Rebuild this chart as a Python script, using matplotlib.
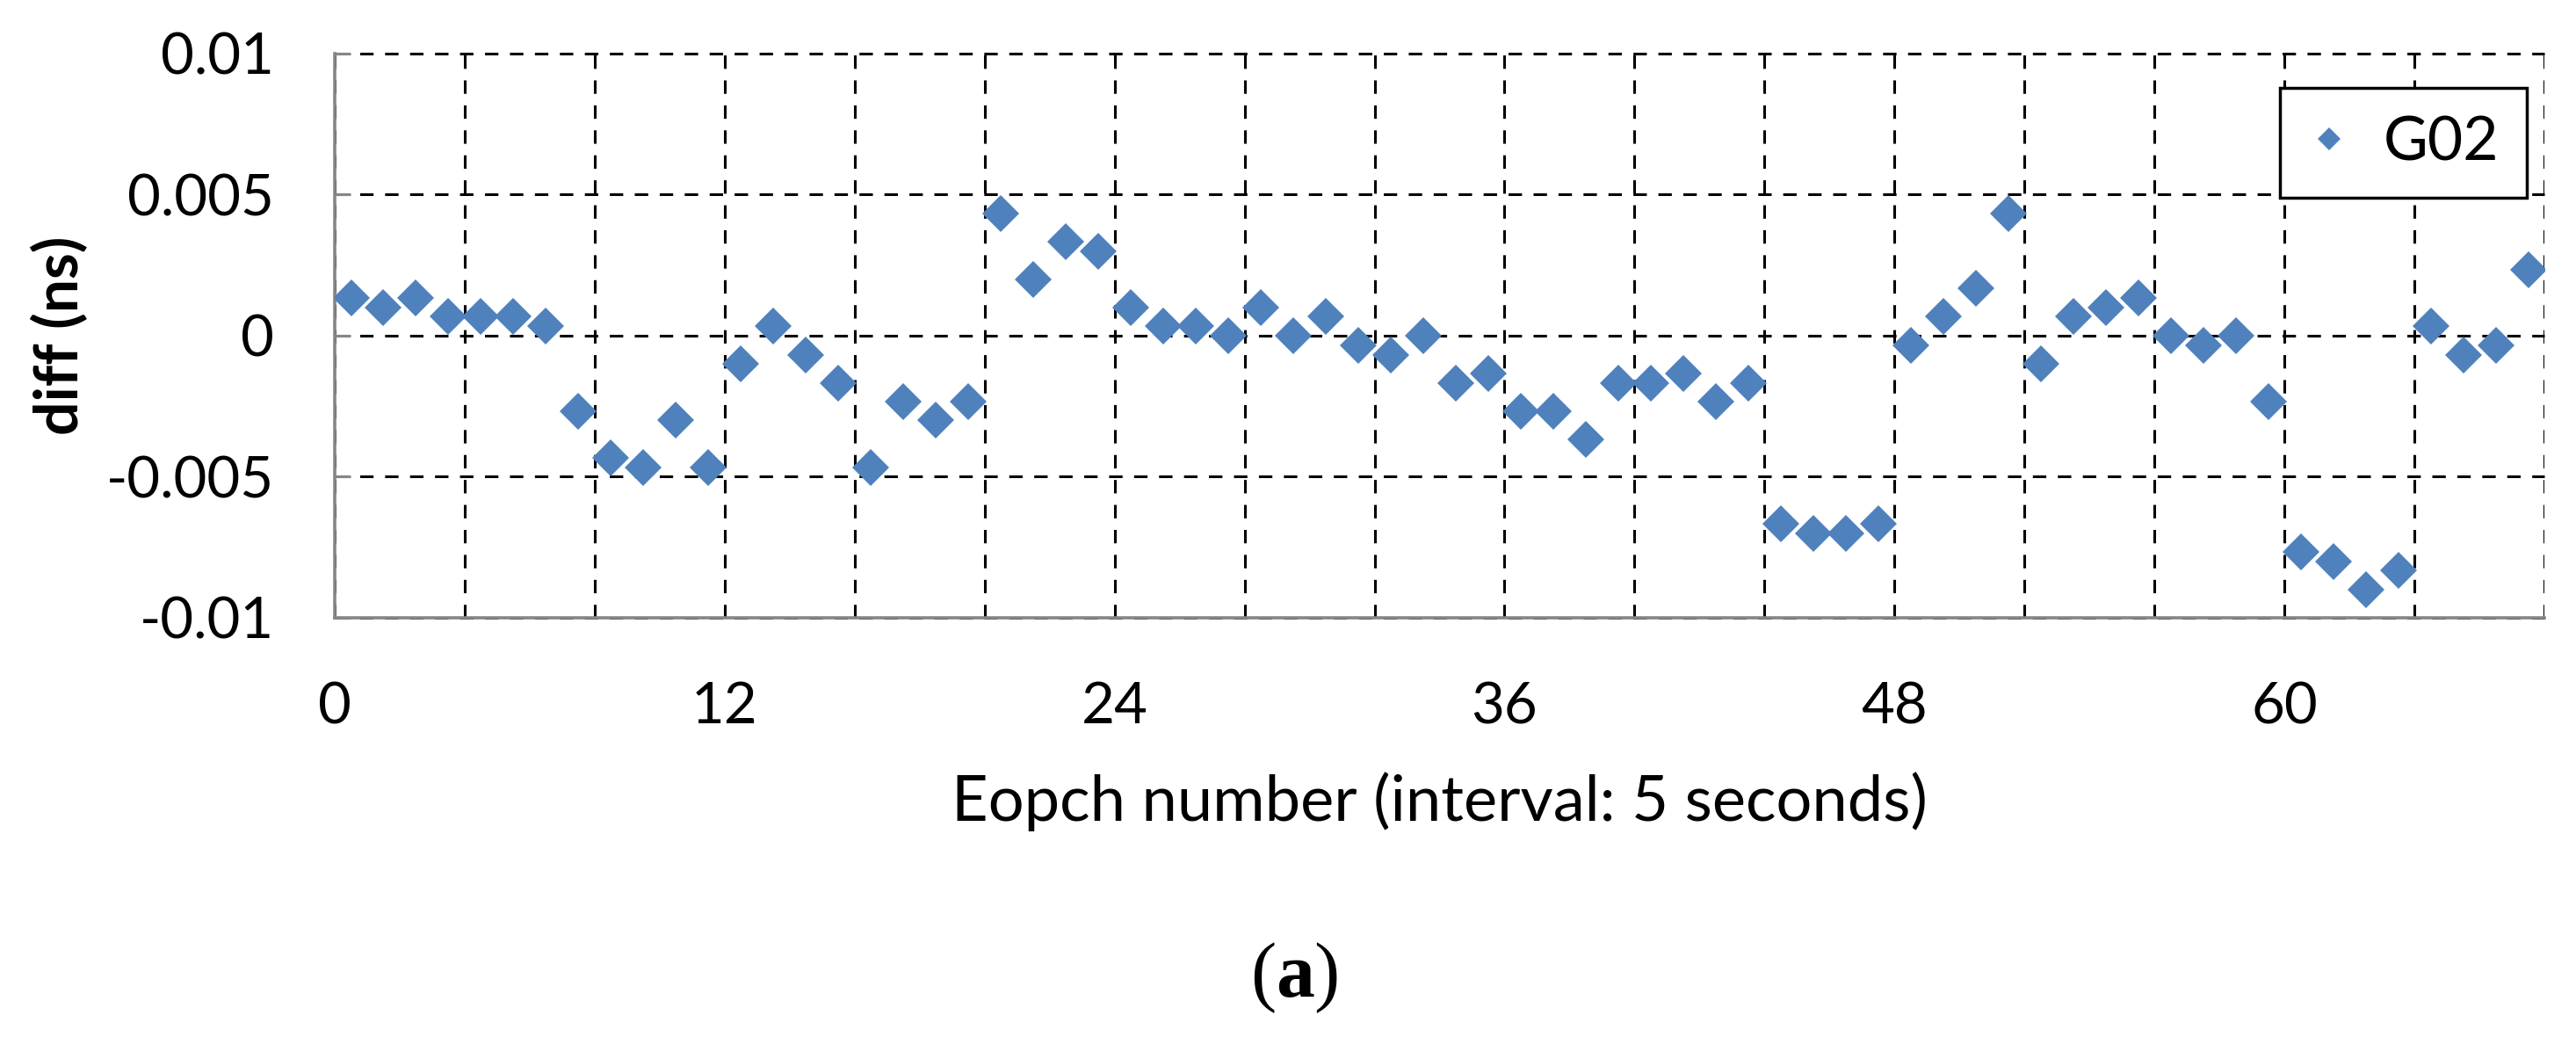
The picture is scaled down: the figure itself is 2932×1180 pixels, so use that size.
import matplotlib
matplotlib.use("Agg")
import matplotlib.pyplot as plt
from matplotlib.ticker import FixedLocator, MultipleLocator

plt.rcParams['font.family'] = ['Lato', 'DejaVu Sans']
plt.rcParams['mathtext.fontset'] = 'custom'
plt.rcParams['mathtext.rm'] = 'Liberation Serif'
plt.rcParams['mathtext.bf'] = 'Liberation Serif:bold'

# epoch index (5 s interval) and clock difference for G02
epochs = list(range(68))
diff_ns = [
    0.00133, 0.00100, 0.00133, 0.00067, 0.00067, 0.00067, 0.00033, -0.00267,
    -0.00433, -0.00467, -0.00300, -0.00467, -0.00100, 0.00033, -0.00067, -0.00167,
    -0.00467, -0.00233, -0.00300, -0.00233, 0.00433, 0.00200, 0.00333, 0.00300,
    0.00100, 0.00033, 0.00033, 0.00000, 0.00100, 0.00000, 0.00067, -0.00033,
    -0.00067, 0.00000, -0.00167, -0.00133, -0.00267, -0.00267, -0.00367, -0.00167,
    -0.00167, -0.00133, -0.00233, -0.00167, -0.00667, -0.00700, -0.00700, -0.00667,
    -0.00033, 0.00067, 0.00167, 0.00433, -0.00100, 0.00067, 0.00100, 0.00133,
    0.00000, -0.00033, 0.00000, -0.00233, -0.00767, -0.00800, -0.00900, -0.00833,
    0.00033, -0.00067, -0.00033, 0.00233,
]
x_ticks = [0, 12, 24, 36, 48, 60]
y_ticks = [0.01, 0.005, 0, -0.005, -0.01]
y_tick_labels = ['0.01', '0.005', '0', '-0.005', '-0.01']

blue = '#4F81BD'
gray = '#868686'

fig = plt.figure(figsize=(29.32, 11.8), dpi=100)
ax = fig.add_axes([0.12995, 0.40424, 0.85777, 0.54407])

# Excel category axis puts each point in the middle of its slot
ax.plot([e + 0.5 for e in epochs], diff_ns, linestyle='none', marker='D',
        markersize=21, color=blue, markeredgewidth=0, label='G02', zorder=3)

ax.set_xlim(0, 68)
ax.set_ylim(-0.01, 0.01)
ax.xaxis.set_major_locator(FixedLocator(x_ticks))
ax.xaxis.set_minor_locator(MultipleLocator(4))
ax.set_xticklabels([str(t) for t in x_ticks])
ax.set_yticks(y_ticks)
ax.set_yticklabels(y_tick_labels)

dash = (0, (5, 4.3))
ax.grid(True, which='both', axis='x', color='black', linewidth=2.2, linestyle=dash)
ax.grid(True, which='major', axis='y', color='black', linewidth=2.2, linestyle=dash)
for line in ax.get_xgridlines() + ax.get_ygridlines():
    line.set_clip_on(False)
ax.set_axisbelow(True)

for side in ['top', 'right']:
    ax.spines[side].set_visible(False)
for side in ['left', 'bottom']:
    ax.spines[side].set_color(gray)
    ax.spines[side].set_linewidth(2.6)
    ax.spines[side].set_zorder(2.5)

ax.tick_params(axis='y', direction='in', length=13, width=2.2, color=gray,
               pad=50, labelsize=47)
ax.tick_params(axis='x', which='both', length=0, pad=52, labelsize=47)

ax.set_ylabel('diff (ns)', fontsize=49, fontweight='bold', labelpad=14)
ax.set_xlabel('Eopch number (interval: 5 seconds)', fontsize=52, labelpad=32)

leg = ax.legend(loc='upper right', bbox_to_anchor=(0.992, 0.9393), borderaxespad=0,
                fontsize=50, fancybox=False, framealpha=1, edgecolor='black',
                handlelength=0.7, handletextpad=0.55, borderpad=0.45, markerscale=0.65)
leg.get_frame().set_linewidth(2.5)

fig.text(0.5024, 0.0568, r'($\mathbf{a}$)', fontsize=63, family='Liberation Serif',
         ha='center', va='center')

fig.savefig('out.png', dpi=100)
